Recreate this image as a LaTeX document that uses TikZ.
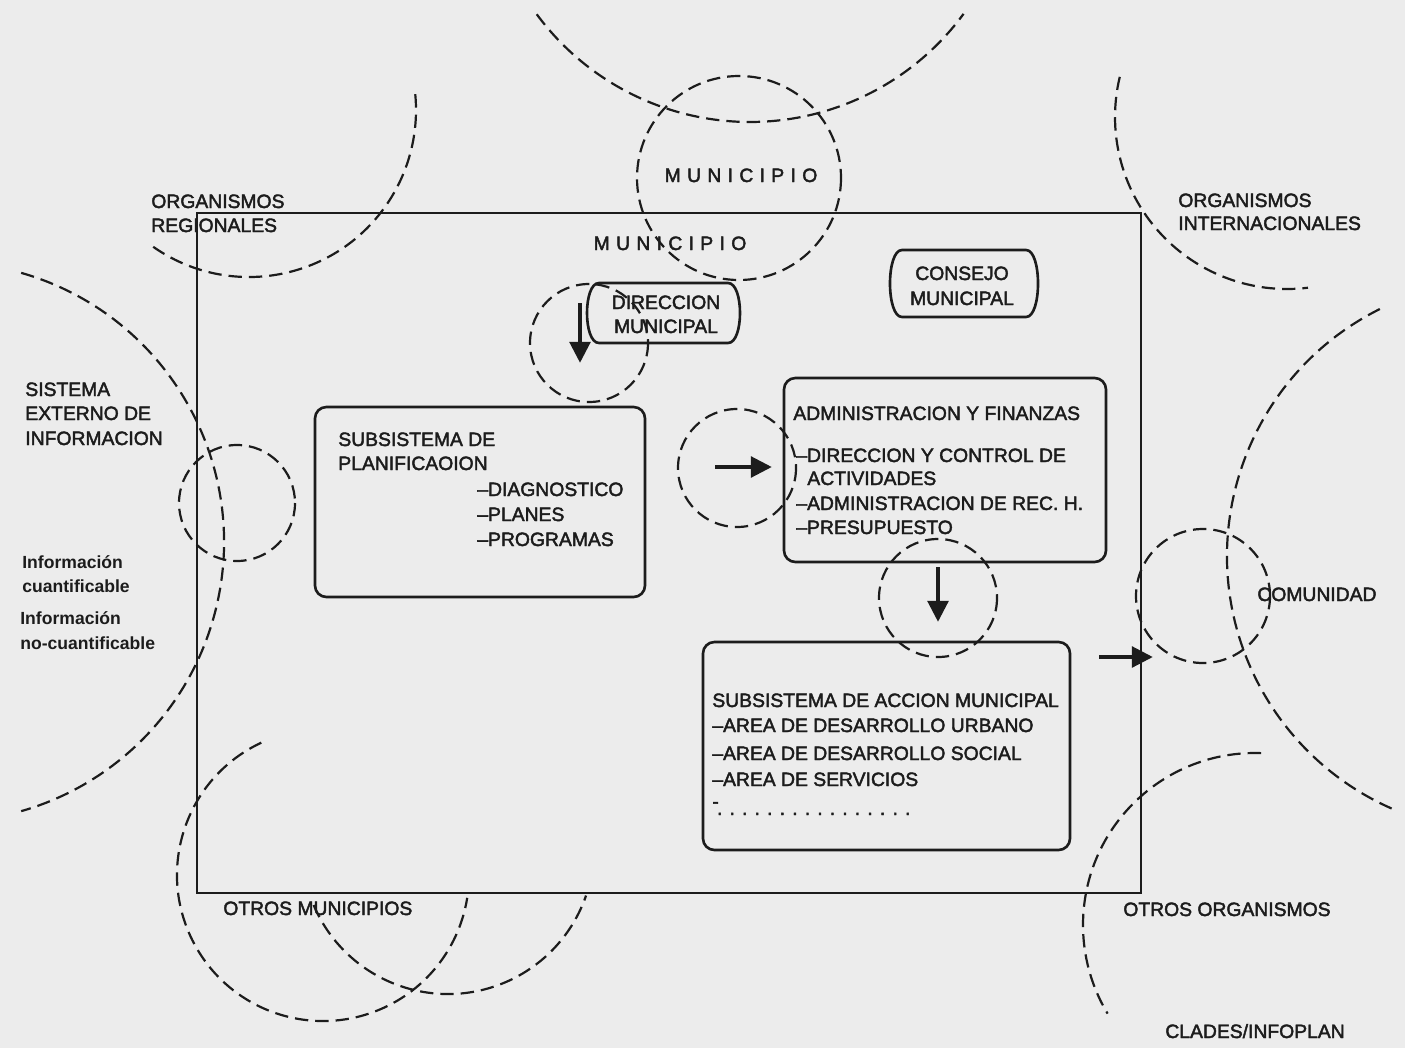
\documentclass[tikz,border=0pt]{standalone}
\usepackage{fontspec}
\setmainfont{Liberation Sans}
\newfontfamily\heavy{Liberation Sans}[FakeBold=2.2]
\usetikzlibrary{arrows.meta}
\definecolor{ink}{RGB}{28,28,28}
\definecolor{paper}{RGB}{236,236,236}
\newcommand{\lk}{\kern3.6pt}
\newcommand{\darc}[5]{\draw[dsh] ([shift={(#3:#5)}]#1,#2) arc[start angle=#3, end angle=#4, radius=#5];}
\newcommand{\capbox}[4]{\draw[capl] (#1+12,#2) -- (#3-12,#2) .. controls (#3+4,#2) and (#3+4,#4) .. (#3-12,#4) -- (#1+12,#4) .. controls (#1-4,#4) and (#1-4,#2) .. cycle;}
\begin{document}
\begin{tikzpicture}[x=0.02cm,y=-0.02cm,
  lbl/.style={font=\heavy\fontsize{11}{13.6}\selectfont, inner sep=0pt, anchor=base west, text=ink},
  lblc/.style={lbl, anchor=base},
  info/.style={lbl, font=\fontsize{10}{12}\selectfont\bfseries},
  dsh/.style={draw=ink, line width=1.25pt, dash pattern=on 7.6pt off 4pt},
  frame/.style={draw=ink, line width=1.05pt},
  boxl/.style={draw=ink, line width=1.5pt, rounded corners=6.5pt},
  capl/.style={draw=ink, line width=1.5pt},
  arr/.style={draw=ink, line width=2.7pt, -{Triangle[length=12pt,width=11.5pt]}},
]
\fill[paper] (0,0) rectangle (1405,1048);
\useasboundingbox (0,0) rectangle (1405,1048);

% main frame
\draw[frame] (197,213) rectangle (1141,893);

% dashed arcs
\darc{750}{-143}{143.6}{36.3}{265}
\darc{249}{110}{125}{-7}{167}
\darc{-56}{542}{-74}{74}{280}
\darc{1287}{117}{193.5}{83}{172}
\darc{1503}{556}{243.5}{113.6}{276}
\darc{1255}{925}{272}{149}{172}
\darc{323}{875}{245}{9}{146}
\darc{448}{848}{157}{19}{146}

% dashed circles
\draw[dsh] (739,178) circle[radius=102];
\draw[dsh] (589,343) circle[radius=59];
\draw[dsh] (237,503) circle[radius=58];
\draw[dsh] (737,468) circle[radius=59];
\draw[dsh] (938,598) circle[radius=59];
\draw[dsh] (1203,596) circle[radius=67];

% boxes
\draw[boxl] (315,407) rectangle (645,597);
\draw[boxl] (784,378) rectangle (1106,562);
\draw[boxl] (703,642) rectangle (1070,850);
\capbox{587}{283}{740}{343}
\capbox{890}{250}{1038}{317}

% texts
\node[lbl] (orgr1) at (151,208) {ORGANISMOS};
\node[lbl] (orgr2) at (151,232) {REGIONALES};
\node[lblc] (mun1) at (741,182) {M\lk U\lk N\lk I\lk C\lk I\lk P\lk I\lk O};
\node[lblc] (mun2) at (670,250) {M\lk U\lk N\lk I\lk C\lk I\lk P\lk I\lk O};
\node[lblc] (dir1) at (666,309) {DIRECCION};
\node[lblc] (dir2) at (666,333) {MUNICIPAL};
\node[lblc] (con1) at (962,280) {CONSEJO};
\node[lblc] (con2) at (962,305) {MUNICIPAL};
\node[lbl] (orgi1) at (1178,207) {ORGANISMOS};
\node[lbl] (orgi2) at (1178,230) {INTERNACIONALES};
\node[lbl] (sis1) at (25,396) {SISTEMA};
\node[lbl] (sis2) at (25,420) {EXTERNO DE};
\node[lbl] (sis3) at (25,445) {INFORMACION};
\node[info] (inf1) at (22,568) {Información};
\node[info] (inf2) at (22,592) {cuantificable};
\node[info] (inf3) at (20,624) {Información};
\node[info] (inf4) at (20,649) {no-cuantificable};
\node[lbl] (pl1) at (338,446) {SUBSISTEMA DE};
\node[lbl] (pl2) at (338,470) {PLANIFICAOION};
\node[lbl] (pl3) at (477,496) {–DIAGNOSTICO};
\node[lbl] (pl4) at (477,521) {–PLANES};
\node[lbl] (pl5) at (477,546) {–PROGRAMAS};
\node[lbl] (ad1) at (793,420) {ADMINISTRACION Y FINANZAS};
\node[lbl] (ad2) at (796,462) {–DIRECCION Y CONTROL DE};
\node[lbl] (ad3) at (807,485) {ACTIVIDADES};
\node[lbl] (ad4) at (796,510) {–ADMINISTRACION DE REC. H.};
\node[lbl] (ad5) at (796,534) {–PRESUPUESTO};
\node[lbl] (sam1) at (712,707) {SUBSISTEMA DE ACCION MUNICIPAL};
\node[lbl] (sam2) at (712,732) {–AREA DE DESARROLLO URBANO};
\node[lbl] (sam3) at (712,760) {–AREA DE DESARROLLO SOCIAL};
\node[lbl] (sam4) at (712,786) {–AREA DE SERVICIOS};
\node[lbl] (sam5) at (712,808) {-\kern-1pt\raisebox{-0.14cm}{. . . . . . . . . . . . . . . .}};
\node[lbl] (otm) at (223,915) {OTROS MUNICIPIOS};
\node[lbl] (oto) at (1123,916) {OTROS ORGANISMOS};
\node[lbl] (cla) at (1165,1038) {CLADES/INFOPLAN};
\node[lbl] (com) at (1257,601) {COMUNIDAD};

% arrows
\coordinate (a1s) at (580,303); \coordinate (a1e) at (580,363);
\coordinate (a2s) at (715,467); \coordinate (a2e) at (772,467);
\coordinate (a3s) at (938,567); \coordinate (a3e) at (938,622);
\coordinate (a4s) at (1099,657); \coordinate (a4e) at (1153,657);
\draw[arr] (a1s) -- (a1e);
\draw[arr] (a2s) -- (a2e);
\draw[arr] (a3s) -- (a3e);
\draw[arr] (a4s) -- (a4e);
\end{tikzpicture}
\end{document}
